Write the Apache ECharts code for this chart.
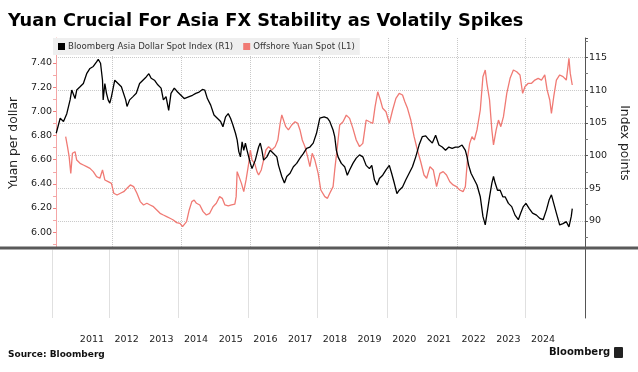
<!DOCTYPE html>
<html><head><meta charset="utf-8">
<script src="https://cdn.jsdelivr.net/npm/echarts@6/dist/echarts.min.js"></script>
<style>html,body{margin:0;padding:0;background:#fff}#c{width:638px;height:372px}</style>
</head><body><div id="c"></div>
<script>
// Offshore Yuan Spot (USD/CNH), left axis; time in decimal years
const yuanYears = [2010.642,2010.695,2010.743,2010.791,2010.839,2010.915,2010.963,2011.060,2011.156,2011.252,
2011.348,2011.444,2011.540,2011.636,2011.712,2011.780,2011.876,2011.972,2012.039,2012.135,
2012.232,2012.328,2012.424,2012.520,2012.616,2012.712,2012.808,2012.904,2013.000,2013.096,
2013.192,2013.288,2013.384,2013.480,2013.576,2013.672,2013.768,2013.865,2013.961,2014.037,
2014.085,2014.153,2014.230,2014.306,2014.374,2014.441,2014.537,2014.633,2014.729,2014.825,
2014.921,2015.017,2015.113,2015.190,2015.267,2015.363,2015.459,2015.555,2015.593,2015.622,
2015.670,2015.747,2015.814,2015.881,2015.958,2016.006,2016.054,2016.131,2016.198,2016.246,
2016.323,2016.390,2016.458,2016.535,2016.631,2016.727,2016.804,2016.871,2016.919,2016.967,
2017.034,2017.111,2017.207,2017.303,2017.380,2017.447,2017.514,2017.591,2017.668,2017.735,
2017.802,2017.879,2017.975,2018.052,2018.168,2018.245,2018.312,2018.408,2018.456,2018.533,
2018.600,2018.696,2018.792,2018.888,2018.984,2019.080,2019.176,2019.272,2019.368,2019.464,
2019.560,2019.628,2019.705,2019.782,2019.849,2019.945,2020.041,2020.137,2020.233,2020.329,
2020.425,2020.492,2020.569,2020.665,2020.761,2020.857,2020.953,2021.049,2021.126,2021.222,
2021.318,2021.414,2021.510,2021.606,2021.702,2021.798,2021.894,2021.990,2022.087,2022.183,
2022.250,2022.317,2022.375,2022.442,2022.510,2022.587,2022.683,2022.760,2022.827,2022.875,
2022.952,2023.019,2023.067,2023.144,2023.211,2023.279,2023.356,2023.452,2023.548,2023.644,
2023.740,2023.836,2023.913,2023.980,2024.076,2024.172,2024.268,2024.364,2024.460,2024.556,
2024.624,2024.701,2024.749,2024.816,2024.893,2024.989,2025.085,2025.181,2025.258,2025.296,
2025.354];
const yuanValues = [6.790,6.708,6.625,6.487,6.653,6.666,6.597,6.570,6.556,6.542,
6.528,6.501,6.459,6.446,6.515,6.432,6.418,6.404,6.322,6.308,
6.322,6.335,6.363,6.391,6.377,6.322,6.253,6.225,6.239,6.225,
6.211,6.184,6.156,6.142,6.129,6.115,6.101,6.079,6.073,6.046,
6.032,6.087,6.184,6.253,6.266,6.239,6.225,6.170,6.142,6.156,
6.211,6.239,6.294,6.280,6.225,6.217,6.225,6.233,6.294,6.501,
6.515,6.404,6.335,6.432,6.570,6.680,6.597,6.570,6.501,6.473,
6.515,6.597,6.680,6.708,6.680,6.708,6.763,6.901,6.970,6.983,
6.873,6.846,6.887,6.914,6.901,6.846,6.763,6.708,6.625,6.542,
6.653,6.597,6.487,6.349,6.294,6.280,6.322,6.377,6.515,6.708,
6.887,6.914,6.969,6.942,6.859,6.763,6.708,6.735,6.928,6.914,
6.901,7.039,7.162,7.094,7.025,6.997,6.901,7.011,7.107,7.149,
7.135,7.080,7.025,6.928,6.790,6.680,6.583,6.473,6.446,6.542,
6.515,6.377,6.487,6.501,6.473,6.418,6.391,6.377,6.349,6.335,
6.377,6.625,6.735,6.790,6.763,6.846,7.011,7.287,7.342,7.232,
7.094,6.846,6.722,6.846,6.928,6.873,6.956,7.149,7.273,7.342,
7.328,7.301,7.149,7.204,7.232,7.232,7.259,7.273,7.259,7.301,
7.177,7.094,6.983,7.121,7.259,7.301,7.287,7.259,7.438,7.314,
7.218];

// Bloomberg Asia Dollar Spot Index, right axis
const adxyYears = [2010.368,2010.483,2010.579,2010.675,2010.771,2010.819,2010.867,2010.915,2010.963,2011.060,
2011.156,2011.252,2011.348,2011.444,2011.540,2011.588,2011.655,2011.712,2011.731,2011.780,
2011.828,2011.876,2011.924,2011.972,2012.068,2012.164,2012.260,2012.308,2012.385,2012.424,
2012.500,2012.597,2012.693,2012.789,2012.885,2012.981,2013.058,2013.125,2013.221,2013.317,
2013.413,2013.480,2013.557,2013.634,2013.701,2013.797,2013.893,2013.989,2014.085,2014.133,
2014.229,2014.325,2014.421,2014.517,2014.614,2014.681,2014.758,2014.854,2014.950,2015.046,
2015.142,2015.209,2015.286,2015.363,2015.430,2015.497,2015.574,2015.622,2015.670,2015.718,
2015.766,2015.814,2015.862,2015.910,2015.958,2016.006,2016.054,2016.150,2016.246,2016.294,
2016.342,2016.390,2016.486,2016.582,2016.678,2016.775,2016.823,2016.919,2016.995,2017.063,
2017.159,2017.255,2017.351,2017.447,2017.543,2017.639,2017.735,2017.831,2017.927,2018.023,
2018.149,2018.245,2018.312,2018.408,2018.456,2018.504,2018.552,2018.648,2018.744,2018.821,
2018.888,2018.984,2019.080,2019.176,2019.272,2019.368,2019.464,2019.532,2019.609,2019.685,
2019.753,2019.849,2019.945,2020.041,2020.108,2020.185,2020.262,2020.329,2020.425,2020.521,
2020.617,2020.713,2020.809,2020.905,2021.001,2021.098,2021.194,2021.290,2021.386,2021.482,
2021.578,2021.674,2021.770,2021.866,2021.962,2022.058,2022.154,2022.250,2022.298,2022.346,
2022.414,2022.491,2022.587,2022.683,2022.760,2022.827,2022.895,2022.952,2023.019,2023.067,
2023.115,2023.183,2023.260,2023.337,2023.404,2023.500,2023.596,2023.692,2023.788,2023.855,
2023.932,2024.009,2024.105,2024.201,2024.316,2024.412,2024.508,2024.604,2024.681,2024.749,
2024.816,2024.893,2024.989,2025.085,2025.181,2025.258,2025.325,2025.354];
const adxyValues = [103.4,105.7,105.2,106.4,108.5,110.0,110.3,108.7,110.0,110.5,
111.0,112.5,113.3,113.6,114.3,114.7,114.1,111.5,108.5,111.0,
109.5,108.5,108.0,109.0,111.5,111.0,110.5,110.3,108.5,107.5,
108.5,109.0,109.5,111.0,111.5,112.0,112.5,111.8,111.5,110.8,
110.3,108.5,109.0,106.9,109.5,110.3,109.7,109.2,108.7,108.5,
109.0,109.2,109.5,109.7,110.1,110.0,108.7,107.7,106.2,105.7,
105.2,104.4,105.9,106.4,105.7,104.7,103.4,102.4,100.6,99.8,
102.1,100.8,101.9,100.8,99.8,98.8,98.0,99.3,101.3,101.9,
100.8,99.3,99.8,100.8,100.3,99.8,98.5,96.8,95.8,96.8,
97.3,98.3,98.8,99.6,100.3,101.1,101.3,101.9,103.4,105.7,
105.9,105.7,105.2,103.9,102.9,100.8,99.8,98.8,98.3,97.0,
97.8,98.8,99.6,100.1,99.8,98.5,98.0,98.5,96.3,95.5,
96.5,97.0,97.8,98.5,97.3,95.8,94.2,94.7,95.2,96.3,
97.3,98.3,99.8,101.6,102.9,103.0,102.4,101.9,103.1,101.6,
101.3,100.8,101.3,101.1,101.3,101.3,101.6,100.8,99.8,98.5,
97.3,96.5,95.5,93.7,90.7,89.4,91.7,93.7,95.8,96.8,
95.8,94.7,94.7,93.7,93.7,92.7,92.2,90.9,90.2,91.2,
92.2,92.7,91.9,91.2,90.9,90.4,90.2,91.7,93.2,94.0,
92.7,91.2,89.4,89.6,89.9,89.1,90.7,91.9];

const yearLabels = [2011,2012,2013,2014,2015,2016,2017,2018,2019,2020,2021,2022,2023,2024];
const yuanTicks = [6.0,6.2,6.4,6.6,6.8,7.0,7.2,7.4];
const indexTicks = [90,95,100,105,110,115];
const seriesNames = ['Bloomberg Asia Dollar Spot Index (R1)', 'Offshore Yuan Spot (L1)'];

const T0 = 2010.363, T1 = 2025.723;
const FONT = 'DejaVu Sans';
const RED = '#f07a74';

const chart = echarts.init(document.getElementById('c'));
chart.setOption({
  animation: false,
  backgroundColor: '#fff',
  title: {
    text: 'Yuan Crucial For Asia FX Stability as Volatily Spikes',
    left: 8, top: 12, padding: 0,
    textStyle: { fontFamily: FONT, fontWeight: 'bold', fontSize: 17.75, color: '#000' }
  },
  legend: {
    left: 53, top: 38, data: seriesNames, icon: 'rect',
    itemWidth: 7, itemHeight: 7, itemGap: 10,
    backgroundColor: '#efefef', padding: [4, 5, 4, 5],
    textStyle: { fontFamily: FONT, fontSize: 8.6, color: '#333', padding: [0, 0, 0, -2] }
  },
  grid: [
    { left: 52.5, right: 52.5, top: 38, height: 210 },
    { left: 52.5, right: 52.5, top: 249.5, height: 68.5 }
  ],
  xAxis: [
    { type: 'value', gridIndex: 0, min: T0, max: T1, minInterval: 2, maxInterval: 2,
      axisLine: { show: false }, axisTick: { show: false }, axisLabel: { show: false },
      splitLine: { show: true, showMinLine: false, showMaxLine: false, lineStyle: { color: '#c8c8c8', type: 'dotted' } } },
    { type: 'value', gridIndex: 1, min: T0, max: T1, minInterval: 2, maxInterval: 2,
      axisLine: { show: false }, axisTick: { show: false },
      axisLabel: { show: true, customValues: yearLabels.map(y => y + 0.5), formatter: v => String(Math.floor(v)),
        margin: 17, fontFamily: FONT, fontSize: 9.5, color: '#222' },
      splitLine: { show: true, showMaxLine: false, lineStyle: { color: '#e0e0e0' } } }
  ],
  yAxis: [
    { type: 'value', gridIndex: 0, position: 'left', min: 5.869, max: 7.607, minInterval: 0.2, maxInterval: 0.2,
      name: 'Yuan per dollar', nameLocation: 'middle', nameGap: 30,
      nameTextStyle: { fontFamily: FONT, fontSize: 12.3, color: '#222' },
      axisLine: { show: true, lineStyle: { color: '#f4a6a6' } },
      axisTick: { show: true, length: 3, lineStyle: { color: '#f08080' } },
      minorTick: { show: true, splitNumber: 2, length: 3, lineStyle: { color: '#f4a6a6' } },
      axisLabel: { customValues: yuanTicks, formatter: v => v.toFixed(2), margin: 4,
        fontFamily: FONT, fontSize: 9.5, color: '#222' },
      splitLine: { show: false } },
    { type: 'value', gridIndex: 0, position: 'right', min: 85.88, max: 117.95, minInterval: 5, maxInterval: 5,
      name: 'Index points', nameLocation: 'middle', nameRotate: -90, nameGap: 24,
      nameTextStyle: { fontFamily: FONT, fontSize: 12.3, color: '#222' },
      axisLine: { show: true, lineStyle: { color: '#555' } },
      axisTick: { show: true, length: 3, lineStyle: { color: '#555' } },
      minorTick: { show: true, splitNumber: 2, length: 3, lineStyle: { color: '#777' } },
      axisLabel: { customValues: indexTicks, margin: 4, fontFamily: FONT, fontSize: 9.5, color: '#222' },
      splitLine: { show: true, showMinLine: false, showMaxLine: false, lineStyle: { color: '#c8c8c8', type: 'dotted' } } },
    { type: 'value', gridIndex: 1, position: 'right', min: 0, max: 1,
      axisLine: { show: true, lineStyle: { color: '#555' } }, axisTick: { show: false },
      axisLabel: { show: false }, splitLine: { show: false } }
  ],
  series: [
    { name: seriesNames[1], type: 'line', xAxisIndex: 0, yAxisIndex: 0, symbol: 'none', showSymbol: false,
      data: yuanYears.map((t, i) => [t, yuanValues[i]]),
      lineStyle: { color: RED, width: 1.3 }, itemStyle: { color: RED } },
    { name: seriesNames[0], type: 'line', xAxisIndex: 0, yAxisIndex: 1, symbol: 'none', showSymbol: false,
      data: adxyYears.map((t, i) => [t, adxyValues[i]]),
      lineStyle: { color: '#000', width: 1.3 }, itemStyle: { color: '#000' } }
  ],
  graphic: [
    { type: 'line', z: 100, shape: { x1: 0, y1: 248, x2: 638, y2: 248 }, style: { stroke: '#5a5a5a', lineWidth: 3 } },
    { type: 'text', left: 8, top: 350, style: { text: 'Source: Bloomberg', font: 'bold 9px "DejaVu Sans"', fill: '#111' } },
    { type: 'text', left: 549, top: 347, style: { text: 'Bloomberg', font: 'bold 10px "DejaVu Sans"', fill: '#111' } },
    { type: 'rect', shape: { x: 614, y: 347, width: 9, height: 11, r: 1 }, style: { fill: '#222' } }
  ]
});
</script></body></html>
